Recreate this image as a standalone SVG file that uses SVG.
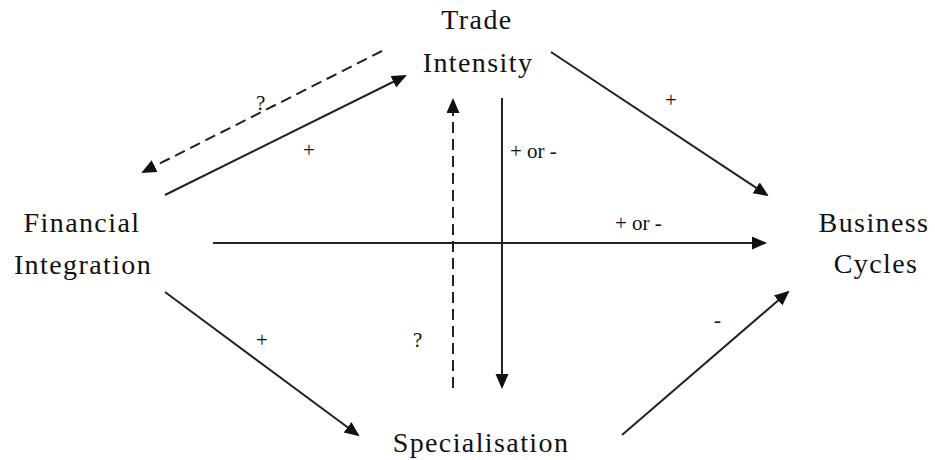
<svg xmlns="http://www.w3.org/2000/svg" width="935" height="460" viewBox="0 0 935 460">
<style>
.node{font-family:"Liberation Serif",serif;font-size:28px;letter-spacing:1.4px;fill:#111;text-anchor:middle}
.lbl{font-family:"Liberation Serif",serif;font-size:21px;fill:#111}
.c{stroke:#222;stroke-width:2;fill:none}
.d{stroke-dasharray:11 6}
</style>
<defs>
<marker id="ah" markerUnits="userSpaceOnUse" markerWidth="16" markerHeight="14" refX="13" refY="6.5" orient="auto">
<path d="M0,0 L15,6.5 L0,13 z" fill="#111"/>
</marker>
</defs>
<rect width="935" height="460" fill="#fff"/>
<g id="trade"><text class="node" x="477" y="29">Trade</text><text class="node" x="478" y="72">Intensity</text></g>
<g id="financial"><text class="node" x="82" y="232">Financial</text><text class="node" x="83" y="274">Integration</text></g>
<g id="business"><text class="node" x="874" y="232">Business</text><text class="node" x="876" y="273">Cycles</text></g>
<g id="special"><text class="node" x="481" y="452">Specialisation</text></g>
<g id="connectors">
<line class="c d" x1="382" y1="51" x2="143" y2="172" marker-end="url(#ah)"/>
<line class="c" x1="165" y1="195" x2="405" y2="76" marker-end="url(#ah)"/>
<line class="c d" x1="453" y1="388" x2="453" y2="100" marker-end="url(#ah)"/>
<line class="c" x1="502" y1="98" x2="502" y2="387" marker-end="url(#ah)"/>
<line class="c" x1="551" y1="52" x2="767" y2="195" marker-end="url(#ah)"/>
<line class="c" x1="213" y1="243" x2="765" y2="243" marker-end="url(#ah)"/>
<line class="c" x1="165" y1="292" x2="358" y2="435" marker-end="url(#ah)"/>
<line class="c" x1="622" y1="435" x2="788" y2="292" marker-end="url(#ah)"/>
<text class="lbl" x="256" y="110">?</text>
<text class="lbl" x="303" y="157">+</text>
<text class="lbl" x="510" y="158">+ or -</text>
<text class="lbl" x="665" y="107">+</text>
<text class="lbl" x="615" y="230">+ or -</text>
<text class="lbl" x="256" y="347">+</text>
<text class="lbl" x="714" y="327">-</text>
<text class="lbl" x="413" y="347">?</text>
</g>
</svg>
